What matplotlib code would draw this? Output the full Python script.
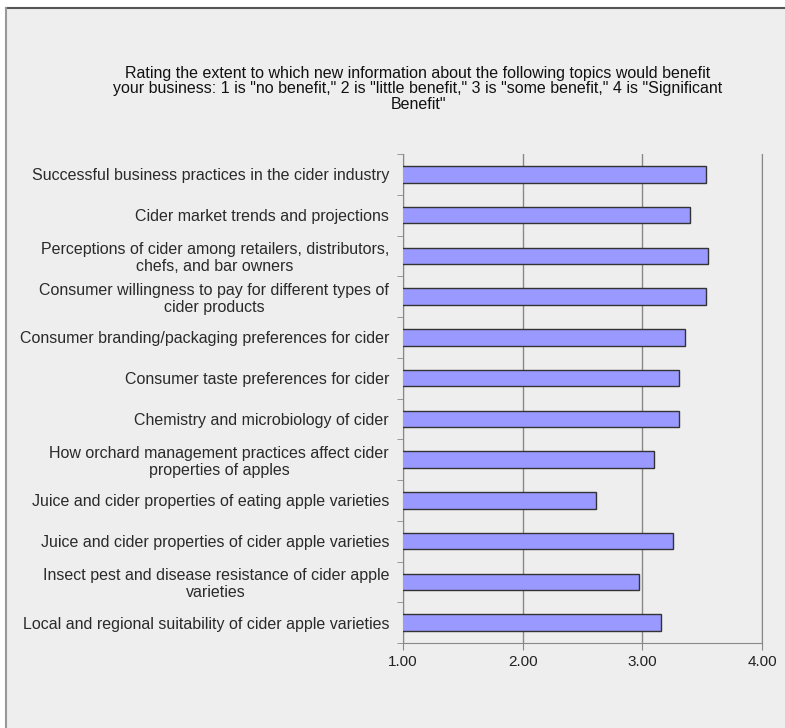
import matplotlib.pyplot as plt
from matplotlib.patches import Rectangle
from matplotlib.lines import Line2D

plt.rcParams['font.family'] = ['Liberation Sans', 'DejaVu Sans']

topics = [
    "Successful business practices in the cider industry",
    "Cider market trends and projections",
    "Perceptions of cider among retailers, distributors,\nchefs, and bar owners",
    "Consumer willingness to pay for different types of\ncider products",
    "Consumer branding/packaging preferences for cider",
    "Consumer taste preferences for cider",
    "Chemistry and microbiology of cider",
    "How orchard management practices affect cider\nproperties of apples",
    "Juice and cider properties of eating apple varieties",
    "Juice and cider properties of cider apple varieties",
    "Insect pest and disease resistance of cider apple\nvarieties",
    "Local and regional suitability of cider apple varieties",
]
ratings = [3.53, 3.40, 3.55, 3.53, 3.36, 3.31, 3.31, 3.10, 2.61, 3.26, 2.97, 3.16]
xticks = [1.0, 2.0, 3.0, 4.0]

bg = '#eeeeee'
W, H = 785, 728
fig = plt.figure(figsize=(W / 100, H / 100), dpi=100, facecolor='white')

# grey panel with a frame on top and left
fig.patches.append(Rectangle((6 / W, 0), 1, 1 - 8 / H, transform=fig.transFigure,
                             facecolor=bg, edgecolor='none', zorder=-5))
fig.lines.append(Line2D([6 / W, 1], [1 - 8 / H, 1 - 8 / H], transform=fig.transFigure,
                        color='#555555', lw=1.5))
fig.lines.append(Line2D([6 / W, 6 / W], [0, 1 - 8 / H], transform=fig.transFigure,
                        color='#999999', lw=1.5))

ax = fig.add_axes([403 / W, 1 - 643 / H, 359 / W, 489 / H])
ax.set_facecolor(bg)

pos = list(range(len(topics)))
ax.barh(pos, ratings, left=0, height=0.41, color='#9999ff',
        edgecolor='#333333', linewidth=1.0, zorder=3)
ax.set_xlim(1, 4)
ax.set_ylim(len(topics) - 0.5, -0.5)

ax.set_xticks(xticks)
ax.set_xticklabels(['%.2f' % v for v in xticks], fontsize=11, color='#222222')
ax.set_yticks(pos)
ax.set_yticklabels(topics, fontsize=11.5, color='#2a2a2a', ha='right',
                   multialignment='center', linespacing=1.15)
ax.tick_params(axis='y', length=0, pad=10)
ax.set_yticks([p - 0.5 for p in pos] + [len(topics) - 0.5], minor=True)
ax.tick_params(axis='y', which='minor', length=4, color='#888888')
ax.tick_params(axis='x', length=5, color='#888888', pad=4)

ax.grid(axis='x', color='#888888', linewidth=1.0, zorder=1)
ax.spines['top'].set_visible(False)
for s in ['left', 'bottom', 'right']:
    ax.spines[s].set_color('#888888')

fig.text(418 / W, 1 - 89 / H,
         'Rating the extent to which new information about the following topics would benefit\n'
         'your business: 1 is "no benefit," 2 is "little benefit," 3 is "some benefit," 4 is "Significant\n'
         'Benefit"',
         ha='center', va='center', fontsize=11.5, color='#111111', linespacing=1.05)

fig.savefig('out.png', dpi=100, facecolor='white')
